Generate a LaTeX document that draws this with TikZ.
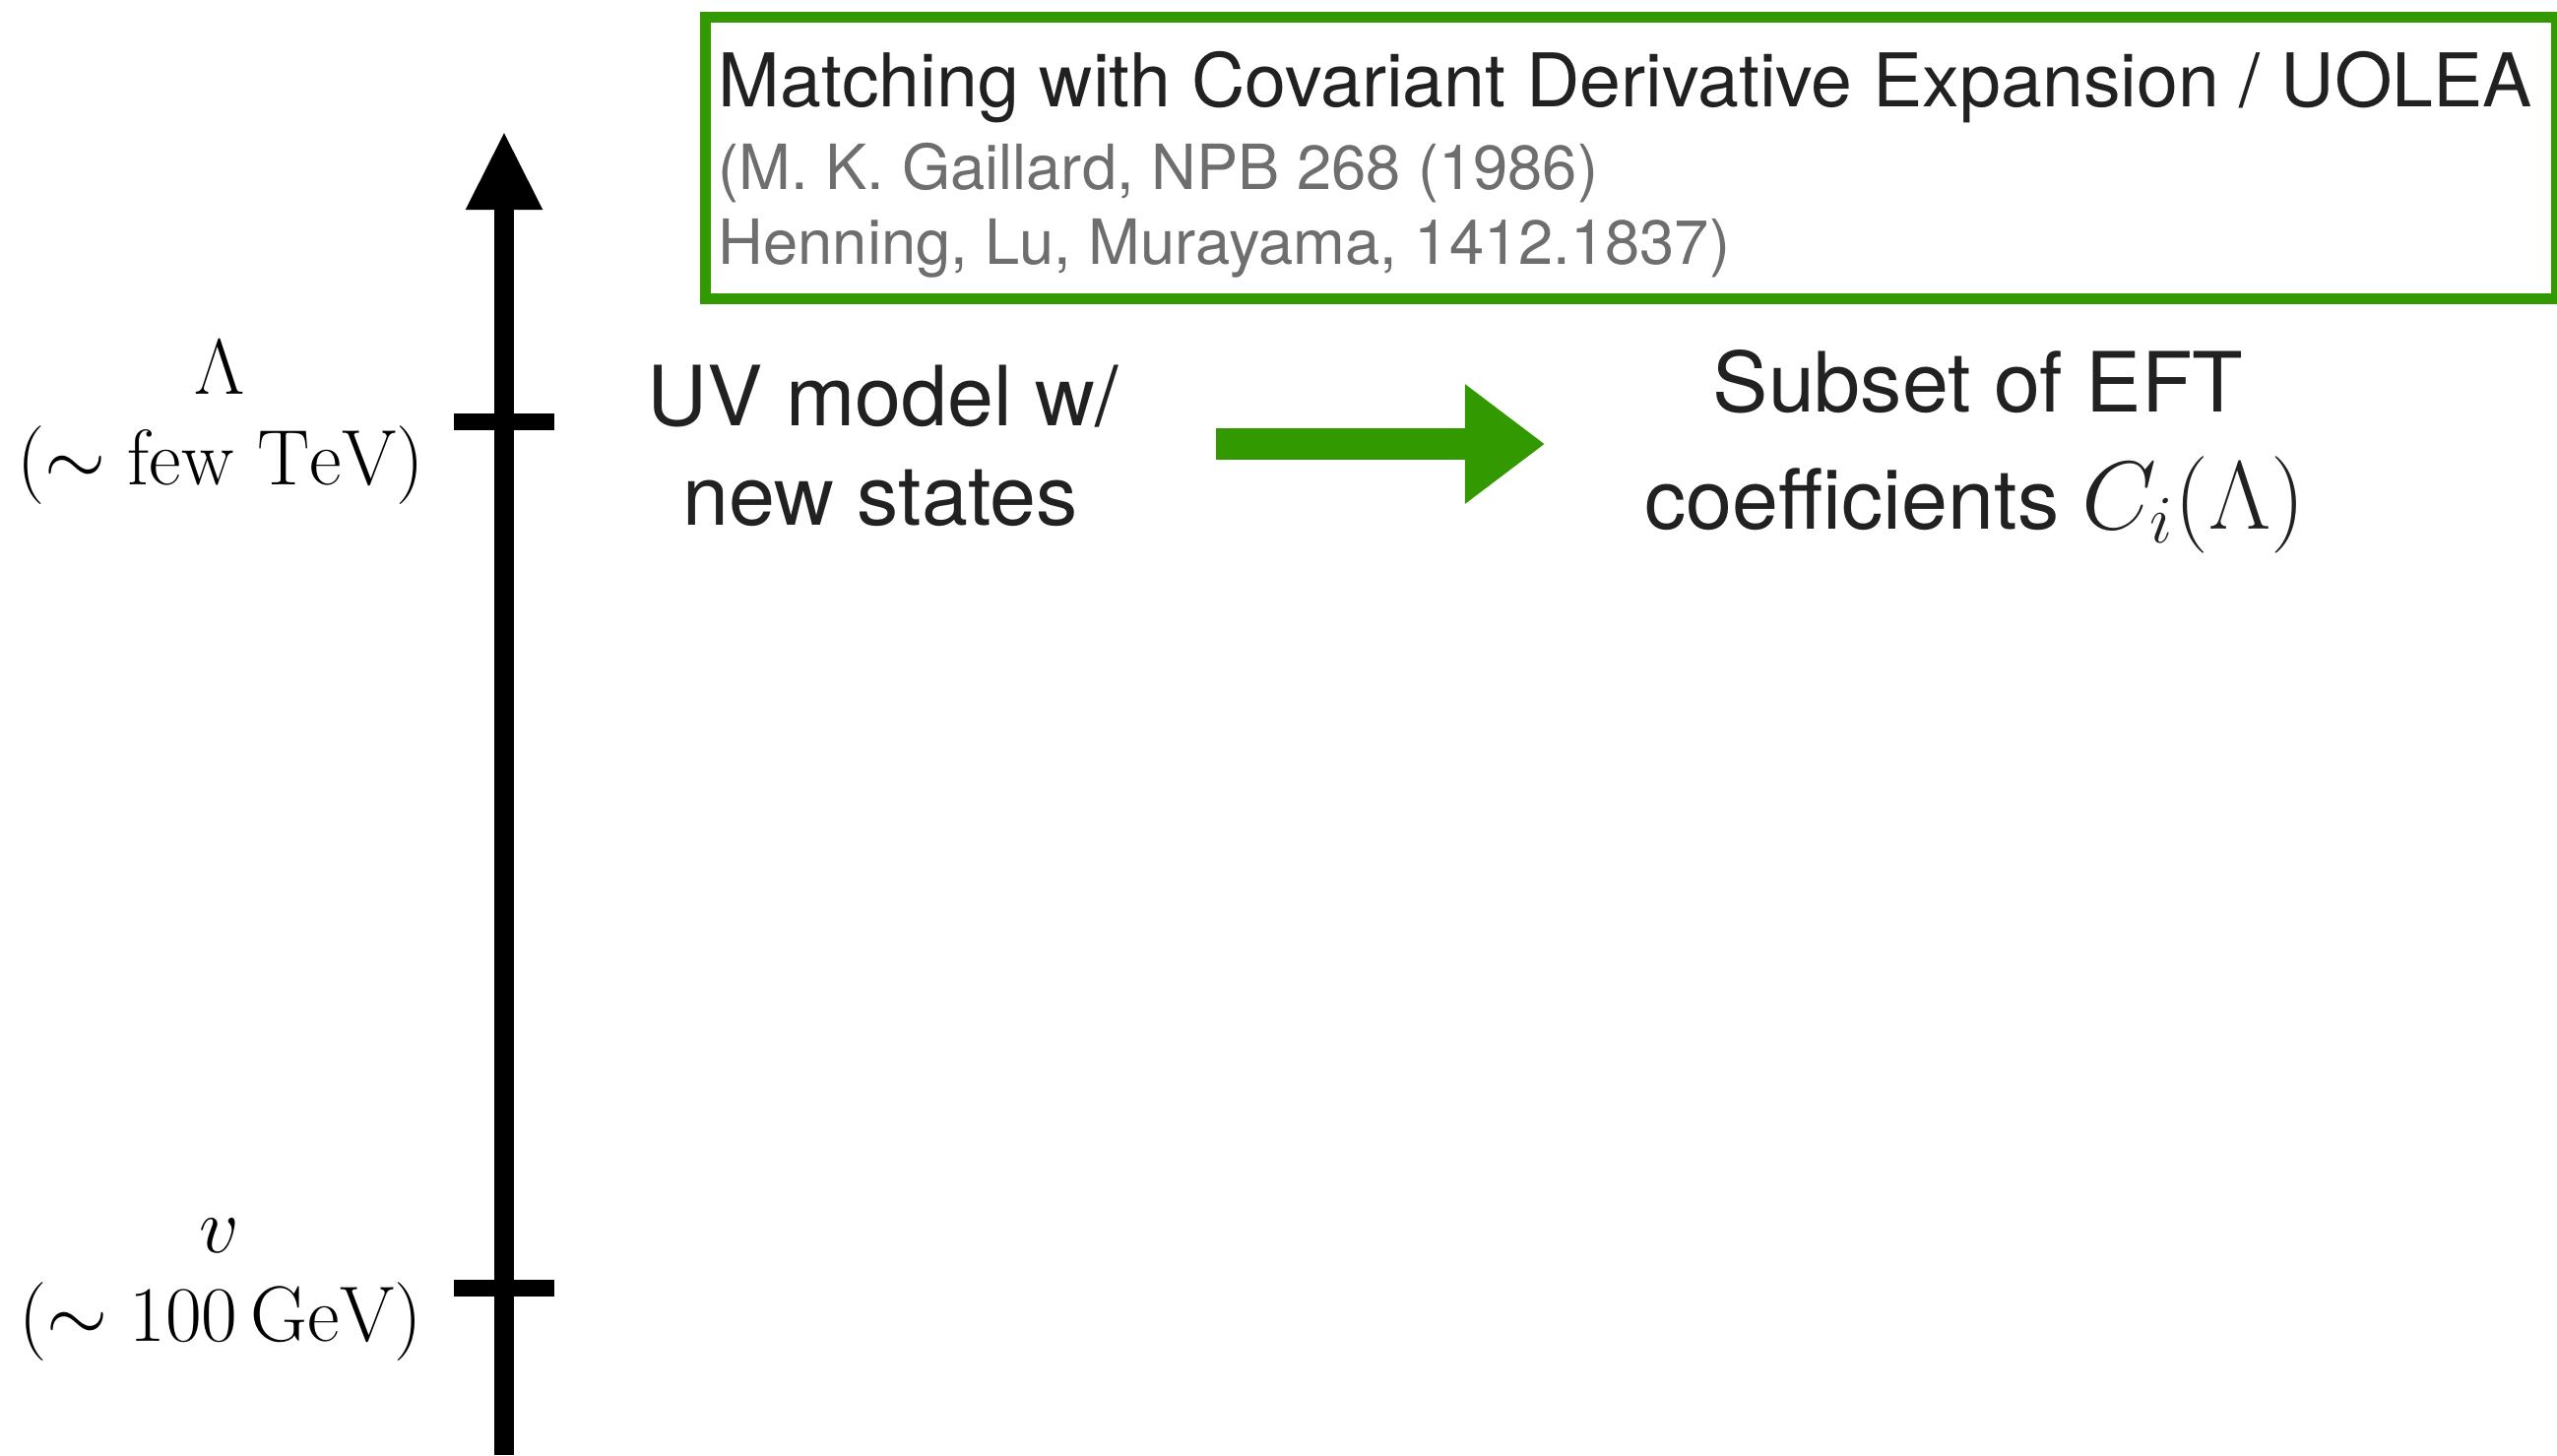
\RequirePackage{fix-cm}
\documentclass[tikz,border=0pt]{standalone}
\usepackage{fontspec}
\setsansfont{TeX Gyre Heros}
\usetikzlibrary{arrows.meta}
\definecolor{kgreen}{RGB}{51,153,0}
\definecolor{ktext}{RGB}{33,33,33}
\definecolor{kgray}{RGB}{110,110,110}
\begin{document}
\begin{tikzpicture}[x=0.01cm,y=-0.01cm,
  mathlbl/.style={anchor=base,inner sep=0pt,font=\fontsize{22.7}{27}\selectfont},
  sanslbl/.style={anchor=base,inner sep=0pt,text=ktext,font=\sffamily\fontsize{24}{28}\selectfont},
  reftitle/.style={anchor=base west,inner sep=0pt,text=ktext,font=\sffamily\fontsize{21.4}{25}\selectfont},
  refline/.style={anchor=base west,inner sep=0pt,text=kgray,font=\sffamily\fontsize{18}{22}\selectfont},
  tickline/.style={line width=0.17cm},
]
\useasboundingbox (0,0) rectangle (2597,1478);

% axis
\coordinate (axbot) at (512,1478);
\coordinate (axtop) at (512,133);
\draw[line width=0.2cm,-{Triangle[length=0.8cm,width=0.72cm]}] (axbot) -- (axtop);

\coordinate (tLa) at (461,428.5);
\coordinate (tLb) at (563,428.5);
\draw[tickline] (tLa) -- (tLb);
\coordinate (tva) at (461,1308);
\coordinate (tvb) at (563,1308);
\draw[tickline] (tva) -- (tvb);

% scale labels
\node[mathlbl] (lam) at (223,400) {$\Lambda$};
\node[mathlbl] (lamval) at (224,492) {$(\sim \mathrm{few\ TeV})$};
\node[mathlbl] (vev) at (223,1272) {$v$};
\node[mathlbl] (vevval) at (224,1362) {$(\sim 100\,\mathrm{GeV})$};

% reference box
\node[draw=kgreen,line width=0.11cm,minimum width=18.79cm,minimum height=2.86cm,inner sep=0pt,anchor=north west] (refbox) at (711,12) {};
\node[reftitle] (rt) at (729,108) {Matching with Covariant Derivative Expansion / UOLEA};
\node[refline] (r1) at (729,192) {(M. K. Gaillard, NPB 268 (1986)};
\node[refline] (r2) at (729,268) {Henning, Lu, Murayama, 1412.1837)};

% UV model
\node[sanslbl] (uv1) at (897,432) {UV model w/};
\node[sanslbl] (uv2) at (894,533) {new states};

% arrow
\coordinate (ga) at (1235,451);
\coordinate (gb) at (1569,451);
\draw[kgreen,line width=0.32cm,-{Triangle[length=0.81cm,width=1.16cm]}] (ga) -- (gb);

% EFT
\node[sanslbl] (eft1) at (2009,418) {Subset of EFT};
\node[sanslbl] (eft2) at (2006,537) {coefficients {\fontsize{28}{32}\selectfont$C_i(\Lambda)$}};
\end{tikzpicture}
\end{document}
